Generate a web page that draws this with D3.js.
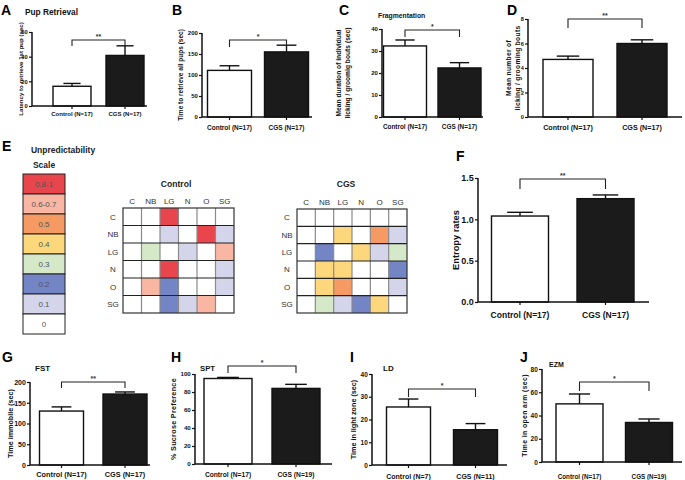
<!DOCTYPE html>
<html><head><meta charset="utf-8">
<script src="https://cdn.jsdelivr.net/npm/d3@7"></script>
<style>
body{margin:0;background:#fff;}
svg{font-family:"Liberation Sans",Arial,sans-serif;}
</style></head><body>
<svg id="c" width="685" height="480"></svg>
<script>
// ---------- DATA ----------
const barPanels = ["A","B","C","D","F","G","H","I","J"];
const groupLabels = [
  ["Control (N=17)","CGS (N=17)"],["Control (N=17)","CGS (N=17)"],["Control (N=17)","CGS (N=17)"],
  ["Control (N=17)","CGS (N=17)"],["Control (N=17)","CGS (N=17)"],["Control (N=17)","CGS (N=17)"],
  ["Control (N=17)","CGS (N=19)"],["Control (N=7)","CGS (N=11)"],["Control (N=17)","CGS (N=19)"]];
const meanValues = [[16,41],[111,155],[32.3,22.3],[4.7,6.0],[1.04,1.25],[130,171],[95,84],[25.5,15.5],[50,34]];
const semValues  = [[2.3,7.8],[11,16],[2.7,2.4],[0.27,0.3],[0.045,0.045],[10,5],[1.2,4.5],[3.5,2.7],[8.5,3]];
const yTickValues = [[0,20,40,60],[0,50,100,150,200],[0,10,20,30,40],[0,2,4,6,8],[0,0.5,1,1.5],
  [0,50,100,150,200],[0,20,40,60,80,100],[0,10,20,30,40],[0,20,40,60,80]];
const sigLabels = ["**","*","*","**","**","**","*","*","*"];
const yTitles = [["Latency  to retrieve 1st pup (sec)"],["Time to retrieve all pups (sec)"],
  ["Mean duration of individual","licking / groomig bouts (sec)"],["Mean number of","licking / grooming bouts"],
  ["Entropy rates"],["Time immobile (sec)"],["% Sucrose Preference"],["Time in light zone (sec)"],["Time in open arm (sec)"]];
const panelTitles = ["Pup Retrieval","","Fragmentation","","","FST","SPT","LD","EZM"];

const transitionLabels = ["C","NB","LG","N","O","SG"];
const controlMatrix = [
  [0,0,0.9,0,0,0],
  [0,0,0.1,0,0.9,0.1],
  [0,0.3,0,0.1,0,0.65],
  [0,0,0.9,0,0,0.1],
  [0,0.65,0.2,0,0,0.1],
  [0,0,0.2,0.1,0.65,0]];
const cgsMatrix = [
  [0,0,0,0,0,0],
  [0,0,0.4,0,0.5,0.1],
  [0,0.2,0,0.4,0.1,0.3],
  [0,0.4,0.4,0,0,0.2],
  [0,0.4,0.5,0,0,0.1],
  [0,0.3,0.1,0.2,0.4,0]];
const scaleLabels = ["0.8-1","0.6-0.7","0.5","0.4","0.3","0.2","0.1","0"];
const scaleValues = [0.9,0.65,0.5,0.4,0.3,0.2,0.1,0];
const scaleColors = ["#ffffff","#d4d5eb","#7385c4","#d5e8c8","#fdd77c","#f59a62","#f8b6a3","#e9454d"];

// ---------- LAYOUT ----------
const layout = [
  {ax:32, xEnd:147, y0:106, yTop:32, c:[72,125], bw:38, brY:40, brBot:46, lx:1, ly:15, tx:25, ty:15, tts:8.3, ylab:[21], xlb:116, tfs:5.8, xfs:6, yfs:6.1},
  {ax:202, xEnd:312, y0:117, yTop:33, c:[229.5,286.5], bw:44, brY:40, brBot:47, lx:172, ly:15, ylab:[181], xlb:130, tfs:6, xfs:6.5, yfs:6.5},
  {ax:382, xEnd:483, y0:117, yTop:29, c:[405,459.5], bw:43, brY:30, brBot:37, lx:339, ly:15, tx:378, ty:18, tts:6.8, ylab:[339,347.5], xlb:129, tfs:6, xfs:6.4, yfs:6.7},
  {ax:528, xEnd:682, y0:117, yTop:19, c:[568,642], bw:50, brY:19, brBot:28, lx:507, ly:15, ylab:[509,517.5], xlb:130, tfs:5.6, xfs:7.2, yfs:6.7, ls:0.3},
  {ax:478, xEnd:649, y0:302, yTop:178, c:[520,605.5], bw:57, brY:179, brBot:189, lx:456, ly:161, ylab:[456], xlb:318, tfs:9, xfs:8.5, yfs:9.3, fmt:".1f"},
  {ax:30, xEnd:150, y0:465, yTop:382, c:[61.5,125], bw:44, brY:382, brBot:388, lx:2, ly:362, tx:35, ty:371, tts:8, ylab:[10], xlb:477, tfs:7, xfs:7.3, yfs:7.2},
  {ax:195, xEnd:332, y0:464, yTop:374, c:[228,296], bw:48, brY:366, brBot:373, lx:171, ly:362, tx:200, ty:371, tts:7.7, ylab:[173], xlb:477, tfs:6.2, xfs:6.7, yfs:7.2, ls:0.3},
  {ax:372, xEnd:507, y0:465, yTop:374, c:[408.5,475.5], bw:44, brY:389, brBot:397, lx:350, ly:362, tx:383, ty:371, tts:8, ylab:[353], xlb:479, tfs:6.5, xfs:7, yfs:7.2},
  {ax:542, xEnd:682, y0:462, yTop:369, c:[579.5,649], bw:47, brY:382, brBot:391, lx:520, ly:362, tx:549, ty:367, tts:7, ylab:[525], xlb:479, tfs:6.5, xfs:6.3, yfs:6.8, ls:0.4}
];

const svg = d3.select("#c");

barPanels.forEach((id, i) => {
  const L = layout[i];
  const g = svg.append("g");
  const ticks = yTickValues[i];
  const y = d3.scaleLinear().domain([0, d3.max(ticks)]).range([L.y0, L.yTop]);
  const s = L.c[1] - L.c[0];
  const p = 1 - L.bw / s;
  const x = d3.scaleBand().domain(groupLabels[i]).range([L.c[0] - s/2, L.c[1] + s/2])
    .paddingInner(p).paddingOuter(p/2);

  // bars
  groupLabels[i].forEach((lab, k) => {
    const m = meanValues[i][k], e = semValues[i][k];
    const bx = x(lab), cx = bx + x.bandwidth()/2;
    const capW = x.bandwidth() * 0.45;
    g.append("line").attr("x1", cx).attr("x2", cx).attr("y1", y(m)).attr("y2", y(m+e))
      .attr("stroke", "#111").attr("stroke-width", 1.4);
    g.append("line").attr("x1", cx-capW/2).attr("x2", cx+capW/2).attr("y1", y(m+e)).attr("y2", y(m+e))
      .attr("stroke", "#111").attr("stroke-width", 1.4);
    g.append("rect").attr("x", bx).attr("y", y(m)).attr("width", x.bandwidth()).attr("height", y(0)-y(m))
      .attr("fill", k === 0 ? "#fff" : "#1b1b1b").attr("stroke", "#111").attr("stroke-width", 1.4);
  });

  // y axis
  const fmt = L.fmt ? d3.format(L.fmt) : d3.format("d");
  const yAxis = d3.axisLeft(y).tickValues(ticks).tickSize(3).tickPadding(1.2).tickFormat(fmt);
  const ya = g.append("g").attr("transform", `translate(${L.ax},0)`).call(yAxis);
  ya.select(".domain").remove();
  ya.selectAll(".tick line").attr("stroke", "#111").attr("stroke-width", 1.2);
  ya.selectAll(".tick text").attr("font-size", L.tfs).attr("font-weight", "bold").attr("fill", "#111")
    .attr("font-family", "Liberation Sans, Arial, sans-serif");
  g.append("line").attr("x1", L.ax).attr("x2", L.ax).attr("y1", L.yTop).attr("y2", L.y0)
    .attr("stroke", "#111").attr("stroke-width", 1.5);

  // x axis
  g.append("line").attr("x1", L.ax).attr("x2", L.xEnd).attr("y1", L.y0).attr("y2", L.y0)
    .attr("stroke", "#111").attr("stroke-width", 1.5);
  const xAxis = d3.axisBottom(x).tickSize(3).tickPadding(2);
  const xa = g.append("g").attr("transform", `translate(0,${L.y0})`).call(xAxis);
  xa.select(".domain").remove();
  xa.selectAll(".tick line").attr("stroke", "#111").attr("stroke-width", 1.2);
  xa.selectAll(".tick text").attr("font-size", L.xfs).attr("font-weight", "bold").attr("fill", "#111")
    .attr("font-family", "Liberation Sans, Arial, sans-serif")
    .attr("y", null).attr("dy", null).attr("transform", `translate(0,${L.xlb - L.y0})`);

  // significance bracket
  const c0 = x(groupLabels[i][0]) + x.bandwidth()/2, c1 = x(groupLabels[i][1]) + x.bandwidth()/2;
  g.append("path").attr("d", `M${c0},${L.brBot}V${L.brY}H${c1}V${L.brBot}`)
    .attr("fill", "none").attr("stroke", "#222").attr("stroke-width", 1.1);
  g.append("text").attr("x", (c0+c1)/2).attr("y", L.brY - 1.5).attr("text-anchor", "middle")
    .attr("font-size", 7).attr("font-weight", "bold").attr("fill", "#333").text(sigLabels[i]);

  // y title
  const midY = (L.y0 + L.yTop)/2;
  yTitles[i].forEach((t, k) => {
    g.append("text").attr("transform", `translate(${L.ylab[k]},${midY}) rotate(-90)`)
      .attr("text-anchor", "middle").attr("dy", "0.35em").attr("font-size", L.yfs).attr("font-weight", "bold")
      .attr("letter-spacing", L.ls || 0).attr("fill", "#111").text(t);
  });

  // panel letter + title
  g.append("text").attr("x", L.lx).attr("y", L.ly).attr("font-size", 14).attr("font-weight", "bold").text(id);
  if (panelTitles[i]) {
    g.append("text").attr("x", L.tx).attr("y", L.ty).attr("font-size", L.tts).attr("font-weight", "bold")
      .attr("fill", "#111").text(panelTitles[i]);
  }
});

// ---------- PANEL E ----------
const color = d3.scaleThreshold().domain([0.05,0.15,0.25,0.35,0.45,0.55,0.75]).range(scaleColors);

svg.append("text").attr("x", 2).attr("y", 151).attr("font-size", 14).attr("font-weight", "bold").text("E");
svg.append("text").attr("x", 63).attr("y", 153).attr("text-anchor", "middle").attr("font-size", 8.5)
  .attr("font-weight", "bold").attr("fill", "#222").text("Unpredictability");
svg.append("text").attr("x", 44).attr("y", 168).attr("text-anchor", "middle").attr("font-size", 8.5)
  .attr("font-weight", "bold").attr("fill", "#222").text("Scale");

const sy = d3.scaleBand().domain(scaleLabels).range([174, 334]);
const leg = svg.append("g");
scaleLabels.forEach((lab, k) => {
  leg.append("rect").attr("x", 23).attr("y", sy(lab)).attr("width", 42).attr("height", sy.bandwidth())
    .attr("fill", color(scaleValues[k])).attr("stroke", "#222").attr("stroke-width", 1);
  leg.append("text").attr("x", 44).attr("y", sy(lab) + sy.bandwidth()/2).attr("dy", "0.35em")
    .attr("text-anchor", "middle").attr("font-size", 8).attr("fill", "#555").text(lab);
});

function drawMatrix(mat, title, x0, x1, y0, y1, titleX) {
  const g = svg.append("g");
  const cx = d3.scaleBand().domain(transitionLabels).range([x0, x1]);
  const cy = d3.scaleBand().domain(transitionLabels).range([y0, y1]);
  g.append("text").attr("x", titleX).attr("y", 187).attr("text-anchor", "middle").attr("font-size", 8.6)
    .attr("font-weight", "bold").attr("fill", "#222").text(title);
  mat.forEach((row, r) => row.forEach((v, c) => {
    g.append("rect").attr("x", cx(transitionLabels[c])).attr("y", cy(transitionLabels[r]))
      .attr("width", cx.bandwidth()).attr("height", cy.bandwidth())
      .attr("fill", color(v));
  }));
  transitionLabels.slice(1).forEach(l => {
    g.append("line").attr("x1", cx(l)).attr("x2", cx(l)).attr("y1", y0).attr("y2", y1)
      .attr("stroke", "#8a8a8a").attr("stroke-width", 1.2);
  });
  transitionLabels.slice(1).forEach(l => {
    g.append("line").attr("x1", x0).attr("x2", x1).attr("y1", cy(l)).attr("y2", cy(l))
      .attr("stroke", "#222").attr("stroke-width", 1.2);
  });
  g.append("rect").attr("x", x0).attr("y", y0).attr("width", x1-x0).attr("height", y1-y0)
    .attr("fill", "none").attr("stroke", "#333").attr("stroke-width", 1.2);
  transitionLabels.forEach(l => {
    g.append("text").attr("x", cx(l) + cx.bandwidth()/2).attr("y", y0 - 4).attr("text-anchor", "middle")
      .attr("font-size", 8).attr("fill", "#333").text(l);
    g.append("text").attr("x", x0 - 10).attr("y", cy(l) + cy.bandwidth()/2).attr("dy", "0.35em")
      .attr("text-anchor", "middle").attr("font-size", 8).attr("fill", "#333").text(l);
  });
}
drawMatrix(controlMatrix, "Control", 123, 234, 208, 313, 176);
drawMatrix(cgsMatrix, "CGS", 297, 407, 209, 313, 346);
</script>
</body></html>
